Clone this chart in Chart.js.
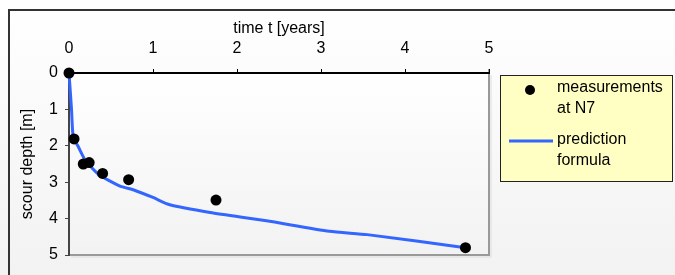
<!DOCTYPE html>
<html>
<head>
<meta charset="utf-8">
<script src="https://cdn.jsdelivr.net/npm/chart.js@4/dist/chart.umd.min.js"></script>
<style>
  html, body { margin: 0; padding: 0; background: #fff; }
  canvas { display: block; }
</style>
</head>
<body>
<canvas id="chart" width="675" height="275"></canvas>
<script>
// measured scour depth at N7
const measuredTime = [0, 0.06, 0.17, 0.24, 0.40, 0.71, 1.75, 4.72];
const measuredDepth = [0, 1.81, 2.50, 2.46, 2.76, 2.93, 3.49, 4.80];

// prediction formula curve
const predictedTime = [0, 0.03, 0.05, 0.11, 0.19, 0.35, 0.60, 0.78, 1.00, 1.20, 1.68, 2.35, 3.10, 3.55, 4.72];
const predictedDepth = [0, 1.00, 1.75, 2.02, 2.38, 2.78, 3.10, 3.22, 3.42, 3.62, 3.83, 4.06, 4.35, 4.44, 4.80];

const xTitle = 'time t [years]';
const yTitle = 'scour depth [m]';
const legendLines = [['measurements', 'at N7'], ['prediction', 'formula']];

const FONT = 'Liberation Sans, Arial, sans-serif';
const toPoints = (xs, ys) => xs.map((x, i) => ({ x: x, y: ys[i] }));

// Background, outer frame and plot area box
const backdrop = {
  id: 'backdrop',
  beforeDraw(chart) {
    const { ctx, chartArea: a, width, height } = chart;
    ctx.save();
    let g = ctx.createLinearGradient(0, 0, 0, height);
    g.addColorStop(0, '#ffffff');
    g.addColorStop(1, '#f2f2f2');
    ctx.fillStyle = g;
    ctx.fillRect(0, 0, width, height);

    ctx.strokeStyle = '#333';
    ctx.lineWidth = 2;
    ctx.strokeRect(9, 10, width + 20, height + 20);

    g = ctx.createLinearGradient(0, a.top, 0, a.bottom);
    g.addColorStop(0, '#ffffff');
    g.addColorStop(1, '#f2f2f2');
    ctx.fillStyle = g;
    ctx.fillRect(a.left, a.top, a.right - a.left, a.bottom - a.top);

    ctx.strokeStyle = '#dcdcdc';
    ctx.lineWidth = 1;
    ctx.beginPath();
    ctx.moveTo(a.right + 2, a.top + 2);
    ctx.lineTo(a.right + 2, a.bottom + 2);
    ctx.lineTo(a.left + 2, a.bottom + 2);
    ctx.stroke();

    ctx.strokeStyle = '#999';
    ctx.lineWidth = 2;
    ctx.beginPath();
    ctx.moveTo(a.right, a.top - 4);
    ctx.lineTo(a.right, a.bottom);
    ctx.lineTo(a.left, a.bottom);
    ctx.stroke();
    ctx.restore();
  }
};

// Legend box on the right
const sideLegend = {
  id: 'sideLegend',
  afterDraw(chart) {
    const { ctx } = chart;
    const box = { x: 500.5, y: 75.5, w: 172, h: 106 };
    ctx.save();
    ctx.fillStyle = '#ffffc4';
    ctx.fillRect(box.x, box.y, box.w, box.h);
    ctx.strokeStyle = '#222';
    ctx.lineWidth = 1;
    ctx.strokeRect(box.x, box.y, box.w, box.h);

    ctx.font = '16px ' + FONT;
    ctx.fillStyle = '#000';
    ctx.textBaseline = 'middle';
    ctx.textAlign = 'left';
    const rows = [88, 140];
    chart.data.datasets.forEach((ds, i) => {
      const y = rows[i];
      if (ds.showLine) {
        ctx.strokeStyle = ds.borderColor;
        ctx.lineWidth = 3;
        ctx.beginPath();
        ctx.moveTo(509, y + 1);
        ctx.lineTo(553, y + 1);
        ctx.stroke();
      } else {
        ctx.fillStyle = ds.backgroundColor;
        ctx.beginPath();
        ctx.arc(530, y + 2, 5, 0, Math.PI * 2);
        ctx.fill();
      }
      ctx.fillStyle = '#000';
      ds.legendLines.forEach((t, j) => ctx.fillText(t, 557, y + j * 21));
    });
    ctx.restore();
  }
};

new Chart(document.getElementById('chart'), {
  type: 'scatter',
  data: {
    datasets: [
      {
        label: legendLines[0].join(' '),
        legendLines: legendLines[0],
        data: toPoints(measuredTime, measuredDepth),
        showLine: false,
        clip: false,
        pointRadius: 5.5,
        pointBackgroundColor: '#000',
        pointBorderWidth: 0,
        backgroundColor: '#000',
        borderColor: '#000'
      },
      {
        label: legendLines[1].join(' '),
        legendLines: legendLines[1],
        data: toPoints(predictedTime, predictedDepth),
        showLine: true,
        clip: false,
        pointRadius: 0,
        borderColor: '#3366ff',
        borderWidth: 3,
        tension: 0.2
      }
    ]
  },
  options: {
    responsive: false,
    animation: false,
    devicePixelRatio: 1,
    layout: { padding: { left: 0, top: 0, right: 186, bottom: 20 } },
    plugins: {
      legend: { display: false },
      tooltip: { enabled: false }
    },
    scales: {
      x: {
        type: 'linear',
        position: 'top',
        min: 0,
        max: 5,
        afterFit: s => { s.height = 73; },
        ticks: { stepSize: 1, color: '#000', padding: 11, font: { family: FONT, size: 16 } },
        grid: { drawOnChartArea: false, tickLength: 4, color: '#000', tickWidth: 1 },
        border: { color: '#000', width: 2 },
        title: {
          display: true, text: xTitle, color: '#000',
          font: { family: FONT, size: 16 }, padding: { top: 19, bottom: 0 }
        }
      },
      y: {
        type: 'linear',
        reverse: true,
        min: 0,
        max: 5,
        afterFit: s => { s.width = 69; },
        ticks: { stepSize: 1, color: '#000', padding: 7, font: { family: FONT, size: 16 } },
        grid: { drawOnChartArea: false, tickLength: 4, color: '#444', tickWidth: 1 },
        border: { color: '#444', width: 2 },
        title: {
          display: true, text: yTitle, color: '#000',
          font: { family: FONT, size: 16 }, padding: { top: 18, bottom: 0 }
        }
      }
    }
  },
  plugins: [backdrop, sideLegend]
});
</script>
</body>
</html>
